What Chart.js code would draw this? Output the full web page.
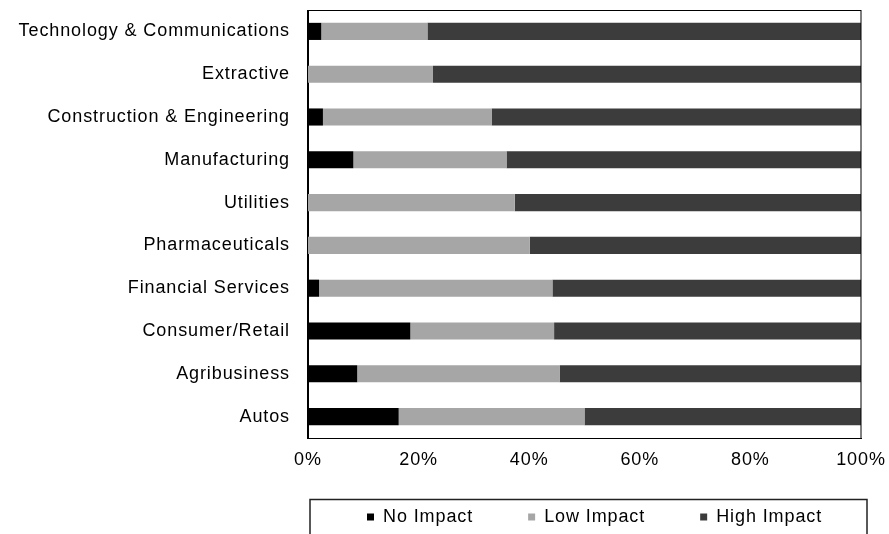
<!DOCTYPE html>
<html>
<head>
<meta charset="utf-8">
<script src="https://cdn.jsdelivr.net/npm/chart.js@4"></script>
<style>
  html, body { margin: 0; padding: 0; background: #ffffff; }
  #wrap { width: 889px; height: 534px; position: relative; }
</style>
</head>
<body>
<div id="wrap"><canvas id="c" width="889" height="534"></canvas></div>
<script>
const categories = ["Technology & Communications", "Extractive", "Construction & Engineering", "Manufacturing", "Utilities", "Pharmaceuticals", "Financial Services", "Consumer/Retail", "Agribusiness", "Autos"];
const noImpact   = [2.4, 0, 2.7, 8.2, 0, 0, 2.0, 18.5, 8.9, 16.4];
const lowImpact  = [19.2, 22.6, 30.5, 27.7, 37.4, 40.1, 42.2, 26.0, 36.6, 33.6];
const highImpact = [78.4, 77.4, 66.8, 64.1, 62.6, 59.9, 55.8, 55.5, 54.5, 50.0];
const xTicks = [0, 20, 40, 60, 80, 100];

const FONT = { family: "'Liberation Sans', Arial, sans-serif", size: 18 };
const SPACING = '0.9px';
const LEGEND_PAD = 55;

const spacingPlugin = {
  id: 'spacing',
  beforeLayout(chart) {
    chart.ctx.letterSpacing = SPACING;
    const lg = chart.legend;
    if (lg && !lg._patched) {
      const f = lg.fit;
      lg.fit = function () { f.call(this); this.height = 60; };
      lg._patched = true;
    }
  },
  afterLayout(chart) {
    const lg = chart.legend;
    if (lg) {
      lg.top = 453; lg.bottom = 534;
      lg.right = 1000;
      const w = (lg.lineWidths && lg.lineWidths[0]) || 520;
      lg.left = 2 * 367 - LEGEND_PAD - lg.right + w;
    }
  },
  beforeDraw(chart) { chart.ctx.letterSpacing = SPACING; }
};

const framePlugin = {
  id: 'frame',
  afterDraw(chart) {
    const ctx = chart.ctx, a = chart.chartArea;
    ctx.save();
    ctx.strokeStyle = '#000';
    ctx.lineWidth = 1;
    ctx.strokeRect(Math.round(a.left) - 0.5, Math.round(a.top) + 0.5, Math.round(a.right - a.left) + 0.5, Math.round(a.bottom - a.top));
    ctx.strokeStyle = '#222';
    ctx.lineWidth = 1.5;
    ctx.strokeRect(Math.round(a.left) + 2, 499.5, Math.round(a.right - a.left) + 4, 60);
    ctx.restore();
  }
};

new Chart(document.getElementById('c'), {
  type: 'bar',
  data: {
    labels: categories,
    datasets: [
      { label: 'No Impact', data: noImpact, backgroundColor: '#000000' },
      { label: 'Low Impact', data: lowImpact, backgroundColor: '#a6a6a6' },
      { label: 'High Impact', data: highImpact, backgroundColor: '#3c3c3c' }
    ]
  },
  options: {
    indexAxis: 'y',
    responsive: false,
    animation: false,
    devicePixelRatio: 1,
    layout: { padding: { top: 10, right: 28, left: 0, bottom: 0 } },
    datasets: { bar: { categoryPercentage: 1, barPercentage: 0.4, borderWidth: 0 } },
    scales: {
      x: {
        stacked: true,
        min: 0, max: 100,
        afterBuildTicks(scale) { scale.ticks = xTicks.map(v => ({ value: v })); },
        afterFit(scale) { scale.paddingLeft = 0; scale.paddingRight = 0; scale.height = 36; },
        ticks: { callback: v => v + '%', color: '#000', font: FONT, padding: 11, maxRotation: 0 },
        grid: { display: false, drawTicks: false },
        border: { display: true, color: '#000', width: 1 }
      },
      y: {
        stacked: true,
        afterFit(scale) { scale.width = 308; scale.paddingTop = 0; scale.paddingBottom = 0; },
        ticks: { color: '#000', font: FONT, padding: 18 },
        grid: { display: false, drawTicks: false },
        border: { display: true, color: '#000', width: 1 }
      }
    },
    plugins: {
      legend: {
        position: 'bottom',
        fullSize: true,
        labels: { boxWidth: 7, boxHeight: 7, color: '#000', font: FONT, padding: LEGEND_PAD }
      },
      tooltip: { enabled: false }
    }
  },
  plugins: [spacingPlugin, framePlugin]
});
</script>
</body>
</html>
